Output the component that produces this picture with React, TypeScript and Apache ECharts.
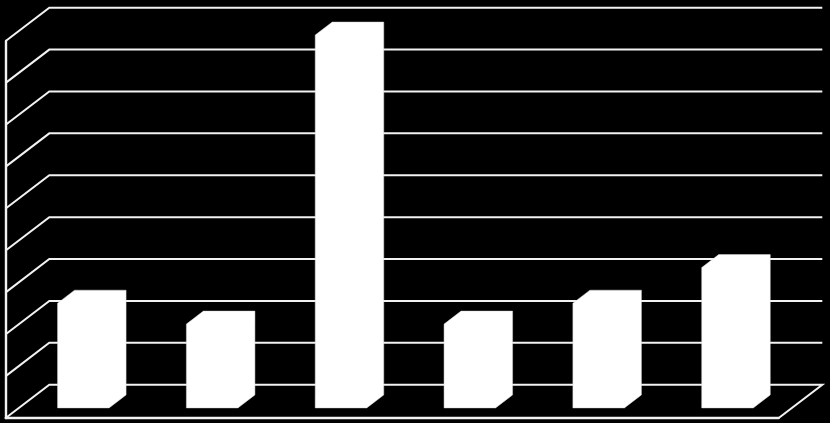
import React, { useEffect, useRef } from "react";
import * as echarts from "echarts";

const categories = ["1", "2", "3", "4", "5", "6"];
const barValues = [2.5, 2, 8.9, 2, 2.5, 3.35];
const gridValues = [0, 1, 2, 3, 4, 5, 6, 7, 8, 9];

const WALL_DX = 43.6;
const WALL_DY = 33.3;
const BAR_SHIFT_X = 13.2;
const BAR_SHIFT_Y = 10.1;
const BAR_DX = 17;
const BAR_DY = 13;
const LINE_COLOR = "#f2f2f2";

function renderWall(params: any, api: any) {
  const cs = params.coordSys;
  const y = api.coord([0, api.value(1)])[1];
  const children: any[] = [
    {
      type: "polyline",
      shape: {
        points: [
          [cs.x, y],
          [cs.x + WALL_DX, y - WALL_DY],
          [cs.x + cs.width + WALL_DX, y - WALL_DY],
          ...(api.value(1) === 0 ? [[cs.x + cs.width, y]] : []),
        ],
      },
      style: { fill: "none", stroke: LINE_COLOR, lineWidth: 2 },
    },
  ];
  return { type: "group", children };
}

function renderBar(_params: any, api: any) {
  const top = api.coord([api.value(0), api.value(1)]);
  const base = api.coord([api.value(0), 0]);
  const w = api.size([1, 0])[0] * 0.4;
  const x0 = top[0] - w / 2 + BAR_SHIFT_X;
  const x1 = x0 + w;
  const yt = top[1] - BAR_SHIFT_Y;
  const yb = base[1] - BAR_SHIFT_Y;
  return {
    type: "polygon",
    shape: {
      points: [
        [x0, yb],
        [x1, yb],
        [x1 + BAR_DX, yb - BAR_DY],
        [x1 + BAR_DX, yt - BAR_DY],
        [x0 + BAR_DX, yt - BAR_DY],
        [x0, yt],
      ],
    },
    style: { fill: "#ffffff", stroke: "#d9d9d9", lineWidth: 0.5 },
  };
}

export default function App() {
  const ref = useRef<HTMLDivElement>(null);
  useEffect(() => {
    const chart = echarts.init(ref.current!, null, { renderer: "svg" });
    chart.setOption({
      animation: false,
      backgroundColor: "#000000",
      grid: { left: 5.7, top: 41, width: 773, height: 377, containLabel: false },
      xAxis: {
        type: "category",
        data: categories,
        axisTick: { show: false },
        axisLabel: { show: false },
        axisLine: { show: true, lineStyle: { color: LINE_COLOR, width: 2.4 } },
        splitLine: { show: false },
      },
      yAxis: {
        type: "value",
        min: 0,
        max: 9,
        interval: 1,
        axisTick: { show: false },
        axisLabel: { show: false },
        axisLine: { show: true, lineStyle: { color: LINE_COLOR, width: 2.4 } },
        splitLine: { show: false },
      },
      series: [
        {
          type: "custom",
          name: "wall",
          renderItem: renderWall,
          data: gridValues.map((v) => [0, v]),
          encode: { x: 0, y: 1 },
          silent: true,
          z: 1,
        },
        {
          type: "custom",
          name: "bars",
          renderItem: renderBar,
          data: barValues.map((v, i) => [i, v]),
          encode: { x: 0, y: 1 },
          silent: true,
          z: 2,
        },
      ],
    });
    return () => chart.dispose();
  }, []);
  return (
    <div
      ref={ref}
      style={{ position: "fixed", left: 0, top: 0, width: 830, height: 423, background: "#000" }}
    />
  );
}
